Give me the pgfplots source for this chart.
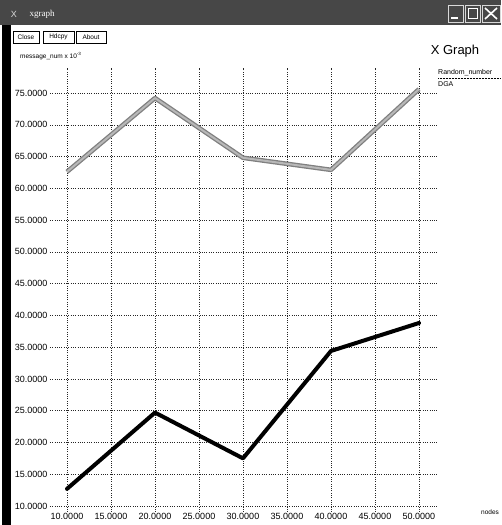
\documentclass[border=0pt]{standalone}
\usepackage{pgfplots}
\pgfplotsset{compat=1.18}
\usepackage{fontspec}
\setmainfont{Liberation Sans}
\newfontfamily\serifx{Liberation Serif}
\begin{document}
\begin{tikzpicture}[x=1pt,y=1pt]
\useasboundingbox (0,0) rectangle (501,525);
% window chrome
\fill[black!72] (0,500) rectangle (501,525);
\node[anchor=west,text=white,font=\serifx\fontsize{9}{10}\selectfont] at (26,511) {xgraph};
\node[text=white!85!black,font=\fontsize{9}{10}\selectfont] at (14,511) {X};
\foreach \a/\b in {448/463,465/480,482/500}{
  \draw[white!85!black,line width=0.8pt] (\a,503) rectangle (\b,520);}
\draw[white,line width=1.5pt] (451,507)--(458,507);
\draw[white,line width=1pt] (468,506) rectangle (477,516);
\draw[white,line width=1.6pt] (485,506)--(497,517) (485,517)--(497,506);
\fill[black] (2,0) rectangle (11,500);
\foreach \a/\b/\t in {13/39/Close,43/74/Hdcpy,76/106/About}{
  \draw[black,line width=0.6pt] (\a,482) rectangle (\b,494);
  \node[font=\fontsize{6.5}{7}\selectfont,inner sep=0pt] at ({(\a+\b)/2},488) {\t};}
\node[font=\fontsize{13}{14}\selectfont] at (455,474) {X Graph};
\node[anchor=west,font=\fontsize{6.5}{7}\selectfont,inner sep=0pt] at (20,469) {message\_num x 10\textsuperscript{-3}};
\node[anchor=west,font=\fontsize{7}{8}\selectfont,inner sep=0pt] at (438,452) {Random\_number};
\draw[black,densely dotted,line width=0.5pt] (438,447)--(501,447);
\node[anchor=west,font=\fontsize{7}{8}\selectfont,inner sep=0pt] at (438,441) {DGA};
\node[anchor=west,font=\fontsize{6.5}{7}\selectfont,inner sep=0pt] at (481,13) {nodes};
\begin{axis}[
  at={(50pt,13pt)}, anchor=south west,
  scale only axis, width=388pt, height=444pt,
  xmin=8.068, xmax=52.16, ymin=9.056, ymax=78.93,
  xtick={10,15,...,50}, ytick={10,15,...,75},
  grid=major,
  major grid style={black!85, line width=0.45pt, dash pattern=on 0.9pt off 1.4pt},
  axis line style={draw=none},
  tick style={draw=none},
  /pgf/number format/assume math mode=true,
  /pgf/number format/.cd, fixed, fixed zerofill, precision=4,
  /pgfplots/.cd,
  ticklabel style={font=\fontsize{9}{10}\selectfont},
  yticklabel style={xshift=1pt},
  xticklabel style={yshift=2pt},
]
\addplot[draw=black!50, line width=1.3pt, double=black!28, double distance=2pt, line join=round]
  coordinates {(10,62.6) (20,74.2) (30,64.8) (40,62.9) (50,75.6)};
\addplot[black, line width=4pt, line join=round, line cap=round]
  coordinates {(10,12.7) (20,24.7) (30,17.5) (40,34.4) (50,38.8)};
\end{axis}
\end{tikzpicture}
\end{document}
